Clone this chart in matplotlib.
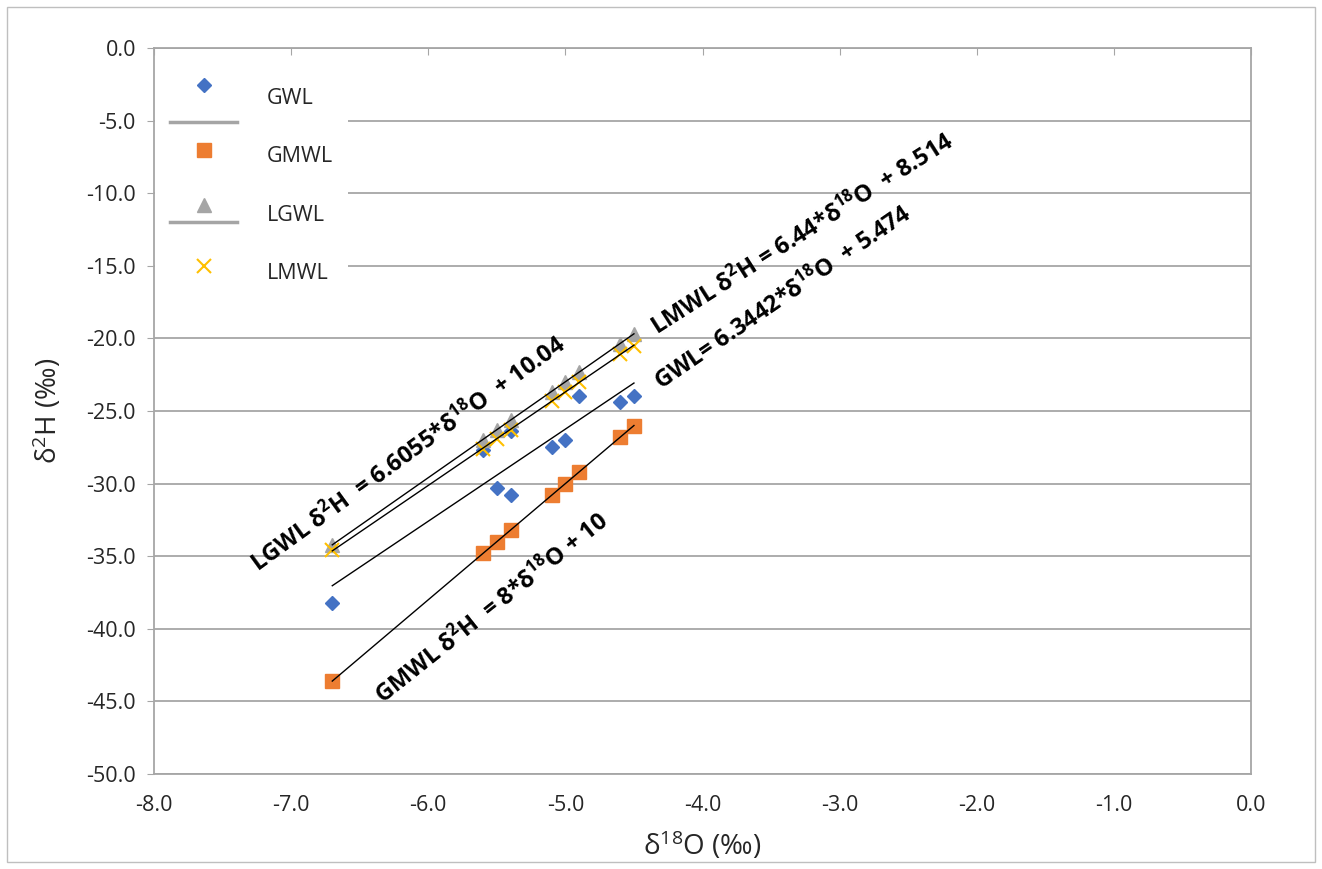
import numpy as np
import matplotlib
matplotlib.use("Agg")
import matplotlib.pyplot as plt
from matplotlib.lines import Line2D
from matplotlib.patches import Rectangle
from matplotlib.legend_handler import HandlerBase

plt.rcParams['font.family'] = ['Open Sans', 'DejaVu Sans']
plt.rcParams['mathtext.fontset'] = 'custom'
plt.rcParams['mathtext.rm'] = 'Open Sans'
plt.rcParams['mathtext.it'] = 'Open Sans:italic'
plt.rcParams['mathtext.bf'] = 'Open Sans:bold'

# Data (delta 18O, delta 2H in per mil)
gwl_x = [-6.7, -5.6, -5.5, -5.4, -5.4, -5.1, -5.0, -4.9, -4.6, -4.5]
gwl_y = [-38.2, -27.7, -30.3, -30.8, -26.4, -27.5, -27.0, -24.0, -24.4, -24.0]

gmwl_x = [-6.7, -5.6, -5.5, -5.4, -5.1, -5.0, -4.9, -4.6, -4.5]
gmwl_y = [-43.6, -34.8, -34.0, -33.2, -30.8, -30.0, -29.2, -26.8, -26.0]

lgwl_x = [-6.7, -5.6, -5.5, -5.4, -5.1, -5.0, -4.9, -4.6, -4.5]
lgwl_y = [-34.2, -27.0, -26.3, -25.6, -23.7, -23.0, -22.3, -20.4, -19.7]

lmwl_x = [-6.7, -5.6, -5.5, -5.4, -5.1, -5.0, -4.9, -4.6, -4.5]
lmwl_y = [-34.6, -27.6, -26.9, -26.3, -24.3, -23.7, -23.0, -21.1, -20.5]

# trendline coefficients as printed on the chart
line_names = ['GWL', 'GMWL', 'LGWL', 'LMWL']
slopes = [6.3442, 8.0, 6.6055, 6.44]
intercepts = [5.474, 10.0, 10.04, 8.514]

x_ticks = np.arange(-8, 1, 1)
y_ticks = np.arange(-50, 1, 5)

BLUE = '#4472C4'
ORANGE = '#ED7D31'
GREY = '#A5A5A5'
YELLOW = '#FFC000'
GRID = '#A6A6A6'
TXT = '#262626'


class ShiftedMarker(HandlerBase):
    # legend handle with the marker lifted and an optional grey line below
    def __init__(self, marker_dy=0.0, line_dy=None):
        super().__init__()
        self.marker_dy = marker_dy
        self.line_dy = line_dy

    def create_artists(self, legend, orig_handle, xdescent, ydescent,
                       width, height, fontsize, trans):
        cy = (height - ydescent) / 2
        out = []
        if self.line_dy is not None:
            ln = Line2D([-xdescent, width - xdescent], [cy + self.line_dy] * 2,
                        color=GREY, lw=2.5)
            ln.set_transform(trans)
            out.append(ln)
        mk = Line2D([width / 2 - xdescent], [cy + self.marker_dy], ls='none',
                    marker=orig_handle.get_marker(),
                    ms=orig_handle.get_markersize(),
                    mfc=orig_handle.get_markerfacecolor(),
                    mec=orig_handle.get_markeredgecolor(),
                    mew=orig_handle.get_markeredgewidth())
        mk.set_transform(trans)
        out.append(mk)
        return out


fig = plt.figure(figsize=(13.22, 8.69), dpi=100)
ax = fig.add_axes([0.1165, 0.1093, 0.8298, 0.8355])

h_gwl, = ax.plot(gwl_x, gwl_y, ls='none', marker='D', ms=7.3, color=BLUE, zorder=3)
h_gmwl, = ax.plot(gmwl_x, gmwl_y, ls='none', marker='s', ms=10.3, color=ORANGE, zorder=3)
h_lgwl, = ax.plot(lgwl_x, lgwl_y, ls='none', marker='^', ms=9.5, color=GREY, zorder=3)
h_lmwl, = ax.plot(lmwl_x, lmwl_y, ls='none', marker='x', ms=10, mew=1.5, color=YELLOW, zorder=4)

# trendlines over the range of the data
all_x = [gwl_x, gmwl_x, lgwl_x, lmwl_x]
for xs, m, b in zip(all_x, slopes, intercepts):
    xr = np.array([min(xs), max(xs)])
    ax.plot(xr, m * xr + b, color='black', lw=1, zorder=5)

ax.set_xlim(-8, 0)
ax.set_ylim(-50, 0)
ax.set_xticks(x_ticks)
ax.set_yticks(y_ticks)
ax.set_xticklabels(['%.1f' % v for v in x_ticks])
ax.set_yticklabels(['%.1f' % v for v in y_ticks])
ax.tick_params(axis='x', top=True, bottom=False, labeltop=False, labelbottom=True,
               direction='in', length=5, color=GRID, labelsize=15.5, labelcolor=TXT, pad=15)
ax.tick_params(axis='y', direction='out', length=5, color=GRID, labelsize=15.5,
               labelcolor=TXT, pad=8)
ax.yaxis.grid(True, color=GRID, lw=1.3)
ax.set_axisbelow(True)
for sp in ax.spines.values():
    sp.set_color(GRID)
    sp.set_linewidth(1.3)

ax.set_xlabel('δ$^{18}$O (‰)', fontsize=20, color=TXT, labelpad=10)
ax.set_ylabel('δ$^{2}$H (‰)', fontsize=20, color=TXT, labelpad=16)

# equation labels
ax.text(-4.33, -19.8, 'LMWL δ$^{\\mathbf{2}}$H = 6.44*δ$^{\\mathbf{18}}$O  + 8.514',
        rotation=32.5, rotation_mode='anchor', ha='left', va='baseline',
        fontsize=17, fontweight='bold', color='black')
ax.text(-4.30, -23.6, 'GWL= 6.3442*δ$^{\\mathbf{18}}$O  + 5.474',
        rotation=34.5, rotation_mode='anchor', ha='left', va='baseline',
        fontsize=17, fontweight='bold', color='black')
ax.text(-7.24, -36.1, 'LGWL δ$^{\\mathbf{2}}$H  = 6.6055*δ$^{\\mathbf{18}}$O  + 10.04',
        rotation=36, rotation_mode='anchor', ha='left', va='baseline',
        fontsize=17, fontweight='bold', color='black')
ax.text(-6.33, -45.2, 'GMWL δ$^{\\mathbf{2}}$H  = 8*δ$^{\\mathbf{18}}$O + 10',
        rotation=38.5, rotation_mode='anchor', ha='left', va='baseline',
        fontsize=17, fontweight='bold', color='black')

leg = ax.legend([h_gwl, h_gmwl, h_lgwl, h_lmwl], line_names,
                handler_map={h_gwl: ShiftedMarker(8.5, -18),
                             h_gmwl: ShiftedMarker(3.5),
                             h_lgwl: ShiftedMarker(6, -6.5),
                             h_lmwl: ShiftedMarker(3.6)},
                loc='upper left', bbox_to_anchor=(0.001, 0.965), borderaxespad=0,
                fontsize=15.5, labelspacing=1.72, handlelength=3.1,
                handletextpad=1.4, borderpad=0.7, frameon=True,
                facecolor='white', edgecolor='none', framealpha=1, fancybox=False)
for t in leg.get_texts():
    t.set_color(TXT)

# outer chart border
fig.patches.append(Rectangle((0.005, 0.008), 0.99, 0.984, transform=fig.transFigure,
                             fill=False, edgecolor='#BFBFBF', lw=1))

fig.savefig('out.png', dpi=100)
